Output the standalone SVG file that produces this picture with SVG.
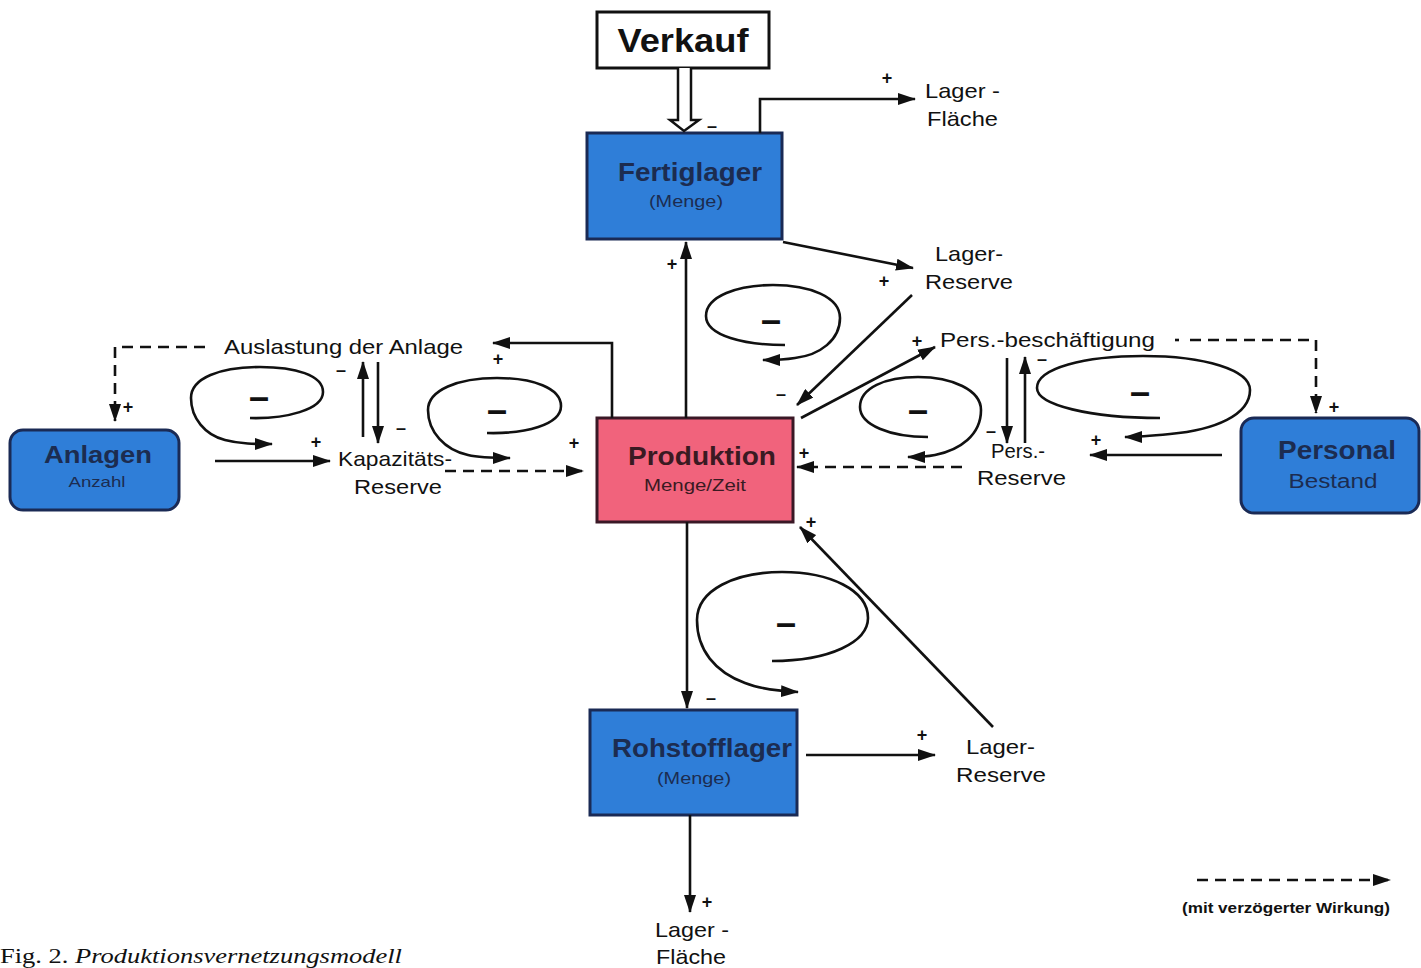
<svg xmlns="http://www.w3.org/2000/svg" width="1421" height="968" viewBox="0 0 1421 968">
<style>
  .lbl{font-family:"Liberation Sans",Arial,sans-serif;font-size:21px;fill:#111;}
  .sg{font-family:"Liberation Sans",Arial,sans-serif;font-size:18px;fill:#111;font-weight:bold;}
  .ttl{font-family:"Liberation Sans",Arial,sans-serif;font-weight:bold;fill:#1c2c50;text-anchor:middle;}
  .sub{font-family:"Liberation Sans",Arial,sans-serif;fill:#1c2c50;text-anchor:middle;}
  .blue{fill:#2f7ed8;stroke:#1a2a55;stroke-width:3;}
  .pink{fill:#f1637c;stroke:#3a1826;stroke-width:3;}
  .ln{fill:none;stroke:#111;stroke-width:2.6;}
  .dash{fill:none;stroke:#111;stroke-width:2.6;stroke-dasharray:11,7;}
  .loop{fill:none;stroke:#111;stroke-width:2.6;}
  .lm{font-family:"Liberation Sans",Arial,sans-serif;font-size:36px;font-weight:bold;fill:#111;text-anchor:middle;}
</style>
<defs>
  <marker id="ah" viewBox="0 0 18 12" refX="17" refY="6" markerWidth="18" markerHeight="12" markerUnits="userSpaceOnUse" orient="auto">
    <path d="M0,0 L18,6 L0,12 Z" fill="#111"/>
  </marker>
</defs>
<rect width="1421" height="968" fill="#fff"/>

<g id="verkauf">
  <rect x="597" y="12" width="172" height="56" fill="#fff" stroke="#111" stroke-width="3"/>
  <text x="683" y="52" font-family="Liberation Sans, Arial, sans-serif" font-weight="bold" font-size="34" text-anchor="middle" fill="#111" textLength="131" lengthAdjust="spacingAndGlyphs">Verkauf</text>
</g>
<g id="fertiglager">
  <rect class="blue" x="587" y="133" width="195" height="106"/>
  <text class="ttl" x="690" y="181" font-size="26" textLength="144" lengthAdjust="spacingAndGlyphs">Fertiglager</text>
  <text class="sub" x="686" y="207" font-size="16" textLength="74" lengthAdjust="spacingAndGlyphs">(Menge)</text>
</g>
<g id="produktion">
  <rect class="pink" x="597" y="418" width="196" height="104"/>
  <text class="ttl" x="702" y="465" font-size="26" style="fill:#3a1a22" textLength="148" lengthAdjust="spacingAndGlyphs">Produktion</text>
  <text class="sub" x="695" y="491" font-size="16" style="fill:#3a1a22" textLength="102" lengthAdjust="spacingAndGlyphs">Menge/Zeit</text>
</g>
<g id="rohstofflager">
  <rect class="blue" x="590" y="710" width="207" height="105"/>
  <text class="ttl" x="702" y="757" font-size="26" textLength="180" lengthAdjust="spacingAndGlyphs">Rohstofflager</text>
  <text class="sub" x="694" y="784" font-size="16" textLength="74" lengthAdjust="spacingAndGlyphs">(Menge)</text>
</g>
<g id="anlagen">
  <rect class="blue" x="10" y="430" width="169" height="80" rx="13"/>
  <text class="ttl" x="98" y="463" font-size="24" textLength="108" lengthAdjust="spacingAndGlyphs">Anlagen</text>
  <text class="sub" x="97" y="487" font-size="15" textLength="57" lengthAdjust="spacingAndGlyphs">Anzahl</text>
</g>
<g id="personal">
  <rect class="blue" x="1241" y="418" width="178" height="95" rx="13"/>
  <text class="ttl" x="1337" y="459" font-size="25" textLength="118" lengthAdjust="spacingAndGlyphs">Personal</text>
  <text class="sub" x="1333" y="488" font-size="20" textLength="89" lengthAdjust="spacingAndGlyphs">Bestand</text>
</g>
<g id="lagerflaeche-oben">
  <text class="lbl" x="925" y="98" textLength="75" lengthAdjust="spacingAndGlyphs">Lager -</text>
  <text class="lbl" x="927" y="126" textLength="71" lengthAdjust="spacingAndGlyphs">Fläche</text>
</g>
<g id="lagerreserve-oben">
  <text class="lbl" x="935" y="261" textLength="68" lengthAdjust="spacingAndGlyphs">Lager-</text>
  <text class="lbl" x="925" y="289" textLength="88" lengthAdjust="spacingAndGlyphs">Reserve</text>
</g>
<g id="auslastung">
  <text class="lbl" x="224" y="354" textLength="239" lengthAdjust="spacingAndGlyphs">Auslastung der Anlage</text>
</g>
<g id="kapazitaetsreserve">
  <text class="lbl" x="338" y="466" textLength="114" lengthAdjust="spacingAndGlyphs">Kapazitäts-</text>
  <text class="lbl" x="354" y="494" textLength="88" lengthAdjust="spacingAndGlyphs">Reserve</text>
</g>
<g id="persbeschaeftigung">
  <text class="lbl" x="940" y="347" textLength="215" lengthAdjust="spacingAndGlyphs">Pers.-beschäftigung</text>
</g>
<g id="persreserve">
  <text class="lbl" x="991" y="458" textLength="54" lengthAdjust="spacingAndGlyphs">Pers.-</text>
  <text class="lbl" x="977" y="485" textLength="89" lengthAdjust="spacingAndGlyphs">Reserve</text>
</g>
<g id="lagerreserve-unten">
  <text class="lbl" x="966" y="754" textLength="69" lengthAdjust="spacingAndGlyphs">Lager-</text>
  <text class="lbl" x="956" y="782" textLength="90" lengthAdjust="spacingAndGlyphs">Reserve</text>
</g>
<g id="lagerflaeche-unten">
  <text class="lbl" x="655" y="937" textLength="74" lengthAdjust="spacingAndGlyphs">Lager -</text>
  <text class="lbl" x="656" y="964" textLength="70" lengthAdjust="spacingAndGlyphs">Fläche</text>
</g>

<g id="connectors">
  <path d="M678,68 V120 L670,120 L684,131 L699,120 L691,120 V68" fill="#fff" stroke="#111" stroke-width="2.5" stroke-linejoin="miter"/>
  <path class="ln" d="M760,133 V99 H915" marker-end="url(#ah)"/>
  <path class="ln" d="M783,242 L913,268" marker-end="url(#ah)"/>
  <path class="ln" d="M686,418 V242" marker-end="url(#ah)"/>
  <path class="ln" d="M912,295 L797,405" marker-end="url(#ah)"/>
  <path class="ln" d="M801,418 L935,347" marker-end="url(#ah)"/>
  <path class="dash" d="M962,467 H797" marker-end="url(#ah)"/>
  <path class="ln" d="M1007,358 V443" marker-end="url(#ah)"/>
  <path class="ln" d="M1025,443 V357" marker-end="url(#ah)"/>
  <path class="dash" d="M1190,340 H1316 V413" marker-end="url(#ah)"/>
  <path class="ln" d="M1175,340 H1179"/>
  <path class="ln" d="M1222,455 H1090" marker-end="url(#ah)"/>
  <path class="ln" d="M612,418 V343 H493" marker-end="url(#ah)"/>
  <path class="dash" d="M205,347 H115 V421" marker-end="url(#ah)"/>
  <path class="ln" d="M215,461 H330" marker-end="url(#ah)"/>
  <path class="ln" d="M363,437 V362" marker-end="url(#ah)"/>
  <path class="ln" d="M378,362 V443" marker-end="url(#ah)"/>
  <path class="dash" d="M445,471 H583" marker-end="url(#ah)"/>
  <path class="ln" d="M687,522 V708" marker-end="url(#ah)"/>
  <path class="ln" d="M806,755 H935" marker-end="url(#ah)"/>
  <path class="ln" d="M993,727 L800,527" marker-end="url(#ah)"/>
  <path class="ln" d="M690,815 V912" stroke-width="3.2" marker-end="url(#ah)"/>

  <path class="loop" d="M250,418 C285,419 323,410 323,392 C323,375 295,367 260,367 C220,367 191,378 191,398 C191,418 205,435 225,440 C240,444 255,444 272,444" marker-end="url(#ah)"/>
  <path class="loop" d="M487,433 C525,434 561,425 561,406 C561,388 533,378 497,378 C458,378 428,390 428,410 C428,432 445,450 468,455 C480,458 493,458 510,458" marker-end="url(#ah)"/>
  <path class="loop" d="M785,345 C745,345 706,336 706,316 C706,296 738,285 773,285 C810,285 840,297 840,318 C840,340 820,355 795,358 C783,360 775,360 763,360" marker-end="url(#ah)"/>
  <path class="loop" d="M928,437 C890,437 860,425 860,407 C860,388 885,377 918,377 C952,377 981,390 981,410 C981,435 960,450 935,455 C925,457 918,457 908,457" marker-end="url(#ah)"/>
  <path class="loop" d="M1160,418 C1090,418 1037,405 1037,388 C1037,368 1085,356 1143,356 C1205,356 1250,370 1250,390 C1250,415 1215,430 1170,434 C1150,436 1140,437 1125,437" marker-end="url(#ah)"/>
  <path class="loop" d="M772,661 C830,661 868,642 868,618 C868,590 830,572 782,572 C735,572 697,590 697,620 C697,650 715,672 745,683 C760,689 778,691 798,692" marker-end="url(#ah)"/>

  <text class="lm" x="259" y="409">–</text>
  <text class="lm" x="497" y="422">–</text>
  <text class="lm" x="771" y="332">–</text>
  <text class="lm" x="918" y="422">–</text>
  <text class="lm" x="1140" y="404">–</text>
  <text class="lm" x="786" y="635">–</text>

  <text class="sg" x="712" y="132" text-anchor="middle">–</text>
  <text class="sg" x="887" y="84" text-anchor="middle">+</text>
  <text class="sg" x="884" y="287" text-anchor="middle">+</text>
  <text class="sg" x="672" y="270" text-anchor="middle">+</text>
  <text class="sg" x="781" y="400" text-anchor="middle">–</text>
  <text class="sg" x="917" y="347" text-anchor="middle">+</text>
  <text class="sg" x="804" y="459" text-anchor="middle">+</text>
  <text class="sg" x="991" y="437" text-anchor="middle">–</text>
  <text class="sg" x="1042" y="365" text-anchor="middle">–</text>
  <text class="sg" x="1334" y="413" text-anchor="middle">+</text>
  <text class="sg" x="1096" y="446" text-anchor="middle">+</text>
  <text class="sg" x="498" y="365" text-anchor="middle">+</text>
  <text class="sg" x="128" y="413" text-anchor="middle">+</text>
  <text class="sg" x="316" y="448" text-anchor="middle">+</text>
  <text class="sg" x="341" y="376" text-anchor="middle">–</text>
  <text class="sg" x="401" y="434" text-anchor="middle">–</text>
  <text class="sg" x="574" y="449" text-anchor="middle">+</text>
  <text class="sg" x="711" y="704" text-anchor="middle">–</text>
  <text class="sg" x="922" y="741" text-anchor="middle">+</text>
  <text class="sg" x="811" y="528" text-anchor="middle">+</text>
  <text class="sg" x="707" y="908" text-anchor="middle">+</text>
</g>

<g id="legend">
  <path class="dash" d="M1197,880 H1390" stroke-dasharray="9,6" marker-end="url(#ah)"/>
  <text x="1286" y="913" font-family="Liberation Sans, Arial, sans-serif" font-weight="bold" font-size="14" text-anchor="middle" fill="#111" textLength="208" lengthAdjust="spacingAndGlyphs">(mit verzögerter Wirkung)</text>
</g>
<g id="caption">
  <text x="0" y="963" font-family="Liberation Serif, Times New Roman, serif" font-size="20" fill="#111" textLength="402" lengthAdjust="spacingAndGlyphs">Fig. 2. <tspan font-style="italic">Produktionsvernetzungsmodell</tspan></text>
</g>
</svg>
